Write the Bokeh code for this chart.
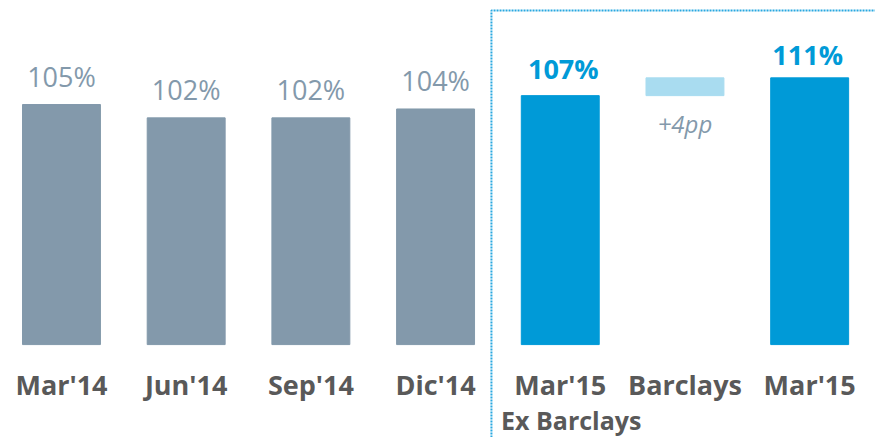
from bokeh.plotting import figure
from bokeh.models import Range1d
from bokeh.core.properties import value
from bokeh.embed import file_html
from bokeh.resources import INLINE

# ---- data ----
categories = ["Mar'14", "Jun'14", "Sep'14", "Dic'14", "Mar'15", "Barclays", "Mar'15"]
sub_labels = ["", "", "", "", "Ex Barclays", "", ""]
hist_values = [105, 102, 102, 104]
hist_labels = ["105%", "102%", "102%", "104%"]
blue_values = [107, 111]
blue_labels = ["107%", "111%"]
barclays_from = 107
barclays_to = 111
barclays_label = "+4pp"
BASE = 51  # axis floor (chart does not start at zero)

GREY = "#8399AB"
BLUE = "#009AD7"
LIGHT = "#A9DCF0"
DARK = "#595959"
FONT = value("Open Sans")

p = figure(width=875, height=437,
           x_range=Range1d(-0.489, 6.528), y_range=Range1d(30.1, 128.4),
           output_backend="svg", toolbar_location=None, min_border=0,
           x_axis_location=None, y_axis_location=None)
p.grid.visible = False
p.outline_line_color = None
p.background_fill_color = "white"

hx = list(range(len(hist_values)))
bx = [4, 6]

p.vbar(x=hx, top=hist_values, bottom=BASE, width=0.625, color=GREY)
p.vbar(x=bx, top=blue_values, bottom=BASE, width=0.625, color=BLUE)
p.vbar(x=[5], top=[barclays_to], bottom=[barclays_from], width=0.625, color=LIGHT)

p.text(x=hx, y=hist_values, text=hist_labels, text_align="center",
       text_baseline="alphabetic", y_offset=-28, text_font=FONT,
       text_font_size="27px", text_color=GREY)
p.text(x=bx, y=blue_values, text=blue_labels, text_align="center",
       text_baseline="alphabetic", y_offset=[-27, -23], x_offset=[3, -2],
       text_font=FONT, text_font_size="27px", text_font_style="bold",
       text_color=BLUE)
p.text(x=[5], y=[barclays_from], text=[barclays_label], text_align="center",
       text_baseline="alphabetic", y_offset=28, text_font=FONT,
       text_font_size="24px", text_font_style="italic", text_color=GREY)

cx = list(range(len(categories)))
p.text(x=cx, y=[BASE] * len(cx), text=categories, text_align="center",
       text_baseline="alphabetic", y_offset=40, text_font=FONT,
       text_font_size="27px", text_font_style="bold", text_color=DARK)
p.text(x=cx, y=[BASE] * len(cx), text=sub_labels, text_align="center",
       text_baseline="alphabetic", y_offset=75, x_offset=11, text_font=FONT,
       text_font_size="25px", text_font_style="bold", text_color=DARK)

# dotted frame around the 2015 group
p.line(x=[3.448, 3.448, 6.7], y=[20, 126.15, 126.15], line_dash="2 1",
       line_width=2, line_color="#29A8E0")

open("out.html", "w").write(file_html(p, INLINE))
